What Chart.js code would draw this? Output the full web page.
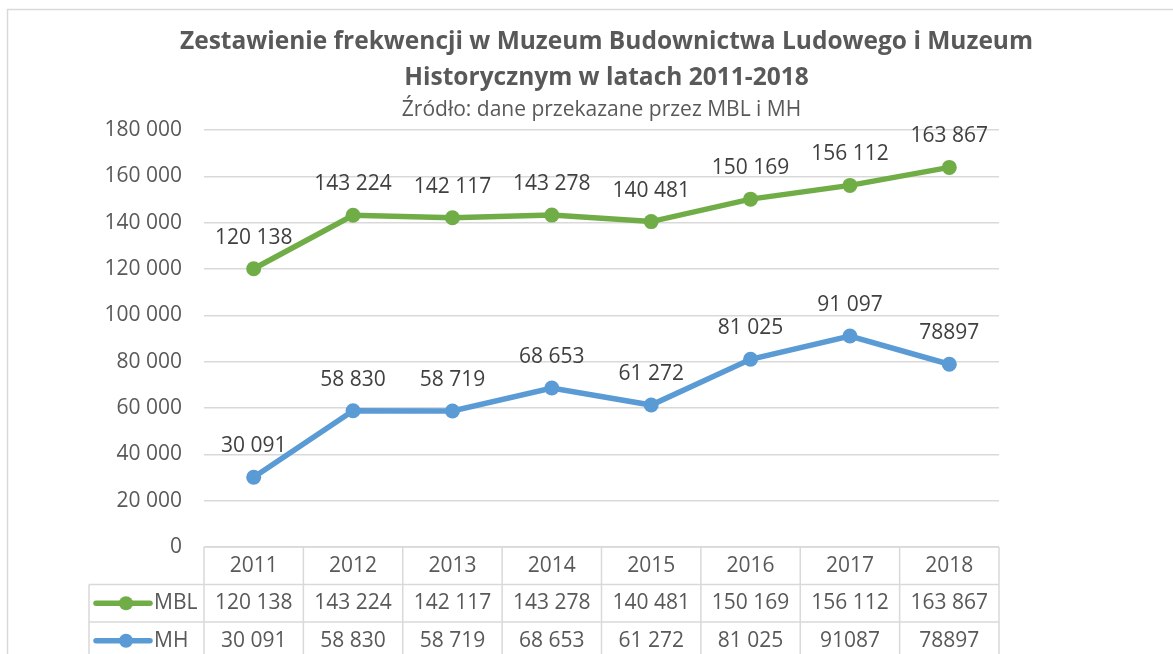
<!DOCTYPE html>
<html lang="pl">
<head>
<meta charset="utf-8">
<title>Frekwencja MBL i MH 2011-2018</title>
<script src="https://cdn.jsdelivr.net/npm/chart.js@4/dist/chart.umd.min.js"></script>
<style>
  body { margin: 0; background: #ffffff; }
  canvas { display: block; }
</style>
</head>
<body>
<canvas id="chart-canvas" width="1173" height="654"></canvas>
<script>
// categories
var years = ["2011", "2012", "2013", "2014", "2015", "2016", "2017", "2018"];

// series values
var mblValues = [120138, 143224, 142117, 143278, 140481, 150169, 156112, 163867];
var mhValues = [30091, 58830, 58719, 68653, 61272, 81025, 91087, 78897];

// texts as printed in the source (it writes some numbers without a space,
// and the label above the 2017 MH point reads 91 097)
var mblPointLabels = ["120 138", "143 224", "142 117", "143 278", "140 481", "150 169", "156 112", "163 867"];
var mhPointLabels = ["30 091", "58 830", "58 719", "68 653", "61 272", "81 025", "91 097", "78897"];
var mblTableLabels = ["120 138", "143 224", "142 117", "143 278", "140 481", "150 169", "156 112", "163 867"];
var mhTableLabels = ["30 091", "58 830", "58 719", "68 653", "61 272", "81 025", "91087", "78897"];

// value axis
var yMin = 0;
var yMax = 180000;
var yStep = 20000;

var GREEN = "#70ad47";
var BLUE = "#5b9bd5";
var TEXT = "#595959";
var GRID = "#d9d9d9";
var FONT = "'Open Sans', 'Noto Sans', sans-serif";

/**
 * 120138 -> "120 138"
 */
function withSpaces(v)
{
  return String(v).replace(/\B(?=(\d{3})+(?!\d))/g, " ");
}

// white page and the light frame round the chart
var framePlugin = {
  id: "frame",
  beforeDraw: function (chart) {
    var ctx = chart.ctx;
    ctx.save();
    ctx.fillStyle = "#ffffff";
    ctx.fillRect(0, 0, chart.width, chart.height);
    ctx.strokeStyle = GRID;
    ctx.lineWidth = 1.5;
    ctx.strokeRect(7.5, 9.5, chart.width + 40, chart.height + 40);
    ctx.restore();
  }
};

// value labels above every point
var pointLabelPlugin = {
  id: "pointLabels",
  afterDatasetsDraw: function (chart) {
    var ctx = chart.ctx;
    ctx.save();
    ctx.font = "21px " + FONT;
    ctx.fillStyle = "#404040";
    ctx.textAlign = "center";
    ctx.textBaseline = "middle";
    chart.data.datasets.forEach(function (ds, d) {
      chart.getDatasetMeta(d).data.forEach(function (pt, i) {
        ctx.fillText(ds.pointLabels[i], pt.x, pt.y - 31);
      });
    });
    ctx.restore();
  }
};

// data table under the plot, columns taken from the x scale
var tablePlugin = {
  id: "dataTable",
  afterDraw: function (chart) {
    var ctx = chart.ctx;
    var x = chart.scales.x;
    var top = chart.chartArea.bottom;
    var rowH = 37.5;
    var half = (x.getPixelForValue(1) - x.getPixelForValue(0)) / 2;
    var left = x.getPixelForValue(0) - half;
    var right = x.getPixelForValue(years.length - 1) + half;
    var keyLeft = 89;

    ctx.save();
    ctx.strokeStyle = GRID;
    ctx.lineWidth = 1.5;

    // horizontal lines
    ctx.beginPath();
    ctx.moveTo(left, top);
    ctx.lineTo(right, top);
    for (var r = 1; r <= 3; r++) {
      ctx.moveTo(keyLeft, top + r * rowH);
      ctx.lineTo(right, top + r * rowH);
    }
    // vertical lines
    for (var i = 0; i <= years.length; i++) {
      var cx = left + i * half * 2;
      ctx.moveTo(cx, top);
      ctx.lineTo(cx, top + 3 * rowH);
    }
    ctx.moveTo(keyLeft, top + rowH);
    ctx.lineTo(keyLeft, top + 3 * rowH);
    ctx.stroke();

    // cell texts
    ctx.font = "21px " + FONT;
    ctx.fillStyle = TEXT;
    ctx.textAlign = "center";
    ctx.textBaseline = "middle";
    var rows = [years, mblTableLabels, mhTableLabels];
    rows.forEach(function (row, r) {
      row.forEach(function (txt, i) {
        ctx.fillText(txt, x.getPixelForValue(i), top + r * rowH + rowH / 2);
      });
    });

    // legend keys in the first column
    chart.data.datasets.forEach(function (ds, d) {
      var cy = top + (d + 1) * rowH + rowH / 2;
      ctx.strokeStyle = ds.borderColor;
      ctx.lineWidth = 5.5;
      ctx.lineCap = "round";
      ctx.beginPath();
      ctx.moveTo(keyLeft + 7, cy);
      ctx.lineTo(keyLeft + 61, cy);
      ctx.stroke();
      ctx.fillStyle = ds.borderColor;
      ctx.beginPath();
      ctx.arc(keyLeft + 37, cy, 7, 0, Math.PI * 2);
      ctx.fill();
      ctx.fillStyle = TEXT;
      ctx.textAlign = "left";
      ctx.fillText(ds.label, keyLeft + 65, cy);
    });
    ctx.restore();
  }
};

function generateChart()
{
  var ctx = document.getElementById("chart-canvas");

  new Chart(ctx, {
    type: "line",
    data: {
      labels: years,
      datasets: [
        {
          label: "MBL",
          data: mblValues,
          pointLabels: mblPointLabels,
          borderColor: GREEN,
          backgroundColor: GREEN,
          pointBackgroundColor: GREEN,
          borderWidth: 5.5,
          pointRadius: 7.5,
          pointBorderWidth: 0,
          tension: 0
        },
        {
          label: "MH",
          data: mhValues,
          pointLabels: mhPointLabels,
          borderColor: BLUE,
          backgroundColor: BLUE,
          pointBackgroundColor: BLUE,
          borderWidth: 5.5,
          pointRadius: 7.5,
          pointBorderWidth: 0,
          tension: 0
        }]
    },
    options: {
      responsive: false,
      animation: false,
      layout: {
        padding: { top: 9, right: 0, bottom: 107, left: 40 }
      },
      plugins: {
        legend: { display: false },
        tooltip: { enabled: false },
        title: {
          display: true,
          text: ["Zestawienie frekwencji w Muzeum Budownictwa Ludowego i Muzeum",
                 "Historycznym w latach 2011-2018"],
          color: TEXT,
          font: { family: FONT, size: 24.5, weight: "bold", lineHeight: 1.46 },
          padding: { top: 15.5, bottom: 0 }
        },
        subtitle: {
          display: true,
          fullSize: false,
          text: "Źródło: dane przekazane przez MBL i MH",
          color: TEXT,
          font: { family: FONT, size: 21, lineHeight: 1.2 },
          padding: { top: 1.4, bottom: 7.4 }
        }
      },
      scales: {
        x: {
          display: false,
          offset: true
        },
        y: {
          min: yMin,
          max: yMax,
          border: { display: false },
          grid: { color: GRID, lineWidth: 1.5, drawTicks: false },
          ticks: {
            stepSize: yStep,
            padding: 22,
            color: TEXT,
            font: { family: FONT, size: 21 },
            callback: function (v) { return withSpaces(v); }
          },
          afterFit: function (scale) { scale.width = 164; }
        },
        // empty right-hand box: keeps the white margin right of the plot
        spacer: {
          type: "linear",
          position: "right",
          display: true,
          border: { display: false },
          grid: { display: false },
          ticks: { display: false },
          afterFit: function (scale) { scale.width = 174; }
        }
      }
    },
    plugins: [framePlugin, pointLabelPlugin, tablePlugin]
  });
}

generateChart();
</script>
</body>
</html>
